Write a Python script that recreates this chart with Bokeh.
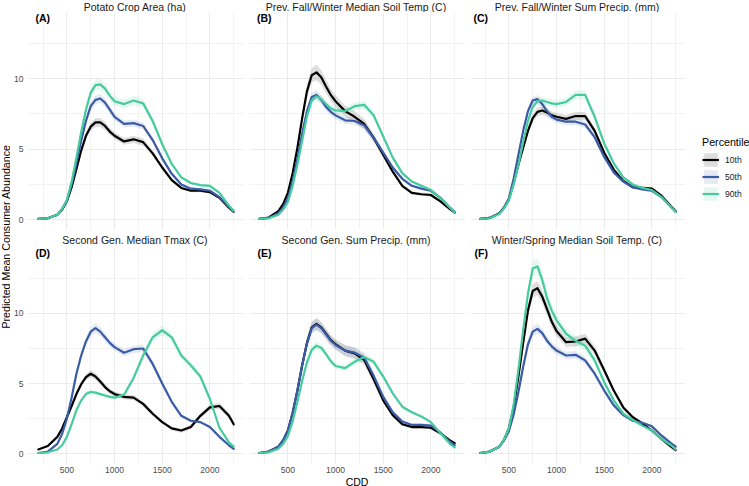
import math

from bokeh.embed import file_html
from bokeh.layouts import column, row
from bokeh.models import (ColumnDataSource, FixedTicker, Grid, Label, Legend,
                          LegendItem, LinearAxis, Range1d)
from bokeh.plotting import figure
from bokeh.resources import INLINE

# ---------------------------------------------------------------- data
cdd = [200, 300, 400, 450, 500, 550, 600, 650, 700, 750, 800, 850, 900, 950,
       1000, 1100, 1200, 1300, 1400, 1500, 1600, 1700, 1800, 1900, 2000,
       2100, 2200, 2250]

percentiles = ["10th", "50th", "90th"]
colors = ["#000000", "#3A5BA6", "#45CB9D"]

panel_tags = ["(A)", "(B)", "(C)", "(D)", "(E)", "(F)"]
panel_titles = [
    "Potato Crop Area (ha)",
    "Prev. Fall/Winter Median Soil Temp (C)",
    "Prev. Fall/Winter Sum Precip. (mm)",
    "Second Gen. Median Tmax (C)",
    "Second Gen. Sum Precip. (mm)",
    "Winter/Spring Median Soil Temp. (C)",
]
x_title = "CDD"
y_title = "Predicted Mean Consumer Abundance"

x_ticks = [500, 1000, 1500, 2000]
x_minor = [250, 750, 1250, 1750, 2250]
y_ticks = [0, 5, 10]
y_minor = [2.5, 7.5, 12.5]

# predicted mean abundance (fit) and ribbon half-width per percentile
a_p10 = [0.05, 0.1, 0.35, 0.7, 1.3, 2.3, 3.6, 4.9, 5.95, 6.6, 6.9, 6.9, 6.65, 6.25,
         5.95, 5.55, 5.7, 5.5, 4.7, 3.7, 2.8, 2.25, 2.05, 2.05, 1.95, 1.55, 0.85, 0.55]
a_p50 = [0.05, 0.1, 0.35, 0.75, 1.35, 2.5, 4.0, 5.6, 7.0, 8.05, 8.5, 8.6, 8.3, 7.8,
         7.3, 6.8, 6.85, 6.65, 5.65, 4.35, 3.25, 2.5, 2.2, 2.15, 2.05, 1.6, 0.9, 0.6]
a_p90 = [0.05, 0.1, 0.35, 0.75, 1.4, 2.7, 4.4, 6.2, 7.8, 9.0, 9.55, 9.6, 9.3, 8.8,
         8.4, 8.2, 8.45, 8.25, 7.0, 5.35, 3.95, 3.0, 2.6, 2.45, 2.4, 1.9, 1.0, 0.6]
a_se10 = [0.02, 0.03, 0.05, 0.07, 0.1, 0.14, 0.18, 0.22, 0.26, 0.3, 0.32, 0.32, 0.3, 0.27,
          0.25, 0.24, 0.26, 0.25, 0.2, 0.16, 0.12, 0.1, 0.1, 0.1, 0.1, 0.08, 0.06, 0.05]
a_se50 = [0.02, 0.03, 0.05, 0.07, 0.1, 0.14, 0.18, 0.22, 0.26, 0.3, 0.32, 0.32, 0.3, 0.27,
          0.25, 0.24, 0.26, 0.25, 0.2, 0.16, 0.12, 0.1, 0.1, 0.1, 0.1, 0.08, 0.06, 0.05]
a_se90 = [0.02, 0.03, 0.05, 0.08, 0.12, 0.17, 0.22, 0.28, 0.33, 0.38, 0.4, 0.4, 0.38, 0.35,
          0.33, 0.32, 0.35, 0.33, 0.27, 0.2, 0.15, 0.12, 0.12, 0.12, 0.12, 0.1, 0.07, 0.05]

b_p10 = [0.05, 0.15, 0.6, 1.1, 1.9, 3.3, 5.1, 7.2, 9.1, 10.25, 10.45, 10.1, 9.45, 8.85,
         8.4, 7.7, 7.3, 6.8, 5.8, 4.6, 3.4, 2.4, 1.9, 1.8, 1.75, 1.3, 0.75, 0.5]
b_p50 = [0.05, 0.12, 0.45, 0.85, 1.5, 2.7, 4.3, 6.1, 7.7, 8.7, 8.85, 8.5, 8.0, 7.65,
         7.4, 7.05, 7.0, 6.7, 5.8, 4.75, 3.7, 2.9, 2.4, 2.2, 2.05, 1.55, 0.85, 0.55]
b_p90 = [0.05, 0.1, 0.35, 0.7, 1.25, 2.4, 3.9, 5.6, 7.35, 8.45, 8.75, 8.55, 8.2, 7.9,
         7.75, 7.7, 8.05, 8.15, 7.4, 5.9, 4.4, 3.3, 2.7, 2.4, 2.1, 1.55, 0.85, 0.5]
b_se10 = [0.03, 0.05, 0.08, 0.12, 0.16, 0.22, 0.3, 0.38, 0.46, 0.52, 0.55, 0.52, 0.48, 0.44,
          0.42, 0.4, 0.4, 0.38, 0.3, 0.22, 0.16, 0.13, 0.12, 0.12, 0.12, 0.1, 0.07, 0.05]
b_se50 = [0.02, 0.03, 0.05, 0.07, 0.1, 0.15, 0.2, 0.25, 0.3, 0.34, 0.35, 0.33, 0.3, 0.28,
          0.27, 0.26, 0.27, 0.26, 0.22, 0.17, 0.13, 0.11, 0.1, 0.1, 0.1, 0.08, 0.06, 0.05]
b_se90 = [0.02, 0.03, 0.05, 0.07, 0.1, 0.14, 0.18, 0.22, 0.26, 0.28, 0.3, 0.28, 0.26, 0.25,
          0.25, 0.26, 0.3, 0.3, 0.26, 0.2, 0.15, 0.12, 0.11, 0.11, 0.1, 0.08, 0.06, 0.05]

c_p10 = [0.05, 0.12, 0.45, 0.85, 1.45, 2.6, 3.9, 5.1, 6.3, 7.2, 7.65, 7.75, 7.6, 7.4,
         7.3, 7.15, 7.35, 7.35, 6.3, 4.75, 3.55, 2.75, 2.3, 2.25, 2.2, 1.7, 0.95, 0.6]
c_p50 = [0.05, 0.12, 0.45, 0.85, 1.5, 2.9, 4.6, 6.3, 7.7, 8.45, 8.55, 8.2, 7.7, 7.3,
         7.1, 6.95, 6.95, 6.75, 5.85, 4.45, 3.35, 2.7, 2.3, 2.15, 2.05, 1.6, 0.9, 0.55]
c_p90 = [0.05, 0.1, 0.4, 0.8, 1.35, 2.5, 3.9, 5.5, 7.0, 8.0, 8.4, 8.45, 8.35, 8.25,
         8.2, 8.35, 8.85, 8.85, 7.3, 5.4, 4.0, 3.0, 2.5, 2.25, 2.1, 1.6, 0.9, 0.55]
c_se10 = [0.02, 0.03, 0.05, 0.07, 0.1, 0.14, 0.18, 0.22, 0.26, 0.29, 0.3, 0.3, 0.29, 0.28,
          0.27, 0.27, 0.28, 0.28, 0.24, 0.18, 0.14, 0.12, 0.11, 0.11, 0.11, 0.09, 0.07, 0.05]
c_se50 = [0.02, 0.03, 0.05, 0.07, 0.1, 0.14, 0.19, 0.24, 0.28, 0.3, 0.3, 0.29, 0.27, 0.26,
          0.25, 0.25, 0.25, 0.25, 0.22, 0.17, 0.13, 0.11, 0.1, 0.1, 0.1, 0.08, 0.06, 0.05]
c_se90 = [0.02, 0.03, 0.05, 0.07, 0.1, 0.14, 0.18, 0.22, 0.26, 0.28, 0.29, 0.29, 0.28, 0.28,
          0.28, 0.3, 0.34, 0.34, 0.28, 0.2, 0.15, 0.12, 0.11, 0.11, 0.1, 0.08, 0.06, 0.05]

d_p10 = [0.3, 0.55, 1.2, 1.8, 2.6, 3.4, 4.25, 4.95, 5.45, 5.7, 5.5, 5.15, 4.75, 4.45,
         4.25, 4.05, 4.0, 3.55, 2.85, 2.25, 1.8, 1.65, 1.9, 2.7, 3.3, 3.4, 2.7, 2.1]
d_p50 = [0.05, 0.15, 0.7, 1.4, 2.5, 4.0, 5.7, 7.0, 8.0, 8.7, 8.95, 8.7, 8.3, 7.9,
         7.6, 7.2, 7.45, 7.5, 6.4, 5.0, 3.7, 2.7, 2.35, 2.25, 1.9, 1.2, 0.6, 0.35]
d_p90 = [0.05, 0.1, 0.3, 0.6, 1.2, 2.1, 3.1, 3.8, 4.25, 4.4, 4.35, 4.25, 4.15, 4.05,
         4.0, 4.2, 5.4, 7.0, 8.3, 8.8, 8.3, 7.0, 6.3, 5.5, 3.9, 1.85, 0.8, 0.5]
d_se10 = [0.06, 0.08, 0.1, 0.12, 0.14, 0.16, 0.18, 0.2, 0.22, 0.24, 0.24, 0.22, 0.2, 0.19,
          0.18, 0.18, 0.18, 0.17, 0.15, 0.14, 0.14, 0.15, 0.16, 0.18, 0.2, 0.22, 0.22, 0.2]
d_se50 = [0.02, 0.03, 0.06, 0.09, 0.12, 0.17, 0.22, 0.26, 0.3, 0.32, 0.33, 0.32, 0.3, 0.28,
          0.27, 0.26, 0.27, 0.27, 0.24, 0.2, 0.16, 0.12, 0.11, 0.11, 0.1, 0.08, 0.06, 0.05]
d_se90 = [0.02, 0.03, 0.04, 0.06, 0.08, 0.1, 0.13, 0.15, 0.16, 0.17, 0.17, 0.17, 0.16, 0.16,
          0.16, 0.17, 0.22, 0.28, 0.33, 0.36, 0.33, 0.28, 0.25, 0.22, 0.17, 0.1, 0.06, 0.05]

e_p10 = [0.05, 0.15, 0.5, 0.95, 1.65, 2.9, 4.5, 6.3, 7.9, 9.0, 9.25, 9.0, 8.55, 8.1,
         7.8, 7.35, 7.15, 6.7, 5.3, 3.8, 2.75, 2.1, 1.9, 1.9, 1.85, 1.45, 0.95, 0.75]
e_p50 = [0.05, 0.15, 0.5, 0.95, 1.65, 2.9, 4.5, 6.3, 7.85, 8.95, 9.2, 8.95, 8.5, 8.05,
         7.75, 7.35, 7.2, 6.85, 5.55, 4.05, 2.95, 2.3, 2.05, 2.05, 2.0, 1.5, 0.85, 0.6]
e_p90 = [0.05, 0.1, 0.35, 0.7, 1.25, 2.3, 3.7, 5.2, 6.5, 7.4, 7.7, 7.55, 7.1, 6.6,
         6.25, 6.1, 6.55, 6.9, 6.55, 5.5, 4.3, 3.35, 2.95, 2.65, 2.25, 1.45, 0.7, 0.45]
e_se10 = [0.02, 0.04, 0.07, 0.1, 0.14, 0.2, 0.26, 0.32, 0.37, 0.4, 0.42, 0.4, 0.38, 0.36,
          0.36, 0.38, 0.4, 0.36, 0.28, 0.2, 0.15, 0.12, 0.11, 0.11, 0.11, 0.1, 0.08, 0.07]
e_se50 = [0.02, 0.04, 0.07, 0.1, 0.14, 0.2, 0.26, 0.32, 0.37, 0.4, 0.42, 0.4, 0.38, 0.36,
          0.36, 0.38, 0.4, 0.36, 0.28, 0.2, 0.15, 0.12, 0.11, 0.11, 0.11, 0.1, 0.08, 0.06]
e_se90 = [0.02, 0.03, 0.05, 0.07, 0.1, 0.14, 0.18, 0.22, 0.25, 0.27, 0.28, 0.27, 0.25, 0.23,
          0.22, 0.22, 0.24, 0.25, 0.23, 0.19, 0.15, 0.12, 0.11, 0.1, 0.1, 0.08, 0.06, 0.05]

f_p10 = [0.05, 0.15, 0.5, 1.0, 1.8, 3.3, 5.5, 7.9, 10.2, 11.6, 11.8, 11.2, 10.3, 9.4,
         8.75, 7.95, 8.0, 8.2, 7.35, 5.95, 4.5, 3.3, 2.6, 2.15, 1.65, 1.05, 0.5, 0.25]
f_p50 = [0.05, 0.15, 0.5, 0.95, 1.6, 2.8, 4.4, 6.2, 7.8, 8.7, 8.9, 8.6, 8.05, 7.65,
         7.35, 7.0, 7.05, 6.65, 5.7, 4.5, 3.45, 2.75, 2.35, 2.2, 1.95, 1.3, 0.75, 0.5]
f_p90 = [0.05, 0.15, 0.5, 1.0, 1.8, 3.5, 6.0, 8.8, 11.4, 13.2, 13.35, 12.4, 11.1, 10.2,
         9.5, 8.55, 8.05, 7.7, 6.65, 5.1, 3.8, 2.85, 2.4, 2.0, 1.65, 1.05, 0.6, 0.3]
f_se10 = [0.02, 0.04, 0.07, 0.1, 0.14, 0.2, 0.27, 0.34, 0.42, 0.48, 0.5, 0.48, 0.44, 0.4,
          0.37, 0.35, 0.36, 0.37, 0.32, 0.25, 0.18, 0.14, 0.12, 0.11, 0.1, 0.08, 0.06, 0.05]
f_se50 = [0.02, 0.03, 0.06, 0.09, 0.12, 0.17, 0.22, 0.27, 0.32, 0.35, 0.36, 0.34, 0.31, 0.29,
          0.28, 0.27, 0.27, 0.26, 0.22, 0.18, 0.14, 0.12, 0.11, 0.11, 0.1, 0.08, 0.06, 0.05]
f_se90 = [0.02, 0.04, 0.07, 0.11, 0.16, 0.23, 0.31, 0.4, 0.5, 0.58, 0.6, 0.56, 0.5, 0.45,
          0.41, 0.37, 0.35, 0.34, 0.29, 0.22, 0.16, 0.12, 0.11, 0.1, 0.09, 0.07, 0.05, 0.04]

panel_fits = [
    (a_p10, a_p50, a_p90), (b_p10, b_p50, b_p90), (c_p10, c_p50, c_p90),
    (d_p10, d_p50, d_p90), (e_p10, e_p50, e_p90), (f_p10, f_p50, f_p90),
]
panel_ses = [
    (a_se10, a_se50, a_se90), (b_se10, b_se50, b_se90), (c_se10, c_se50, c_se90),
    (d_se10, d_se50, d_se90), (e_se10, e_se50, e_se90), (f_se10, f_se50, f_se90),
]

# ---------------------------------------------------------------- style
FONT = "Liberation Sans"
GRID = "#EBEBEB"
X_RANGE = (97.5, 2352.5)
Y_RANGE = (-0.7, 14.7)
FRAME_W = 215
COL_BORDERS = [(17, 3), (3, 3), (3, 2)]   # (left, right) border of each column


def blank(width, height):
    """A bare figure used only as a canvas for free-standing text."""
    f = figure(frame_width=width, frame_height=height,
               x_range=Range1d(0, 1), y_range=Range1d(0, 1),
               x_axis_location=None, y_axis_location=None,
               toolbar_location=None, output_backend="svg", title=None, min_border=0)
    f.outline_line_color = None
    f.background_fill_color = "white"
    f.border_fill_color = "white"
    f.center = []
    return f


def title_strip(i, height, y_mid):
    left, right = COL_BORDERS[i % 3]
    f = blank(left + FRAME_W + right, height)
    f.add_layout(Label(x=left + FRAME_W / 2, y=y_mid, x_units="screen", y_units="screen",
                       text=panel_titles[i], text_align="center", text_baseline="middle",
                       text_font=FONT, text_font_size="10.5px", text_color="#1A1A1A"))
    return f


def make_panel(i, frame_h, bottom, show_x, tag_dx, tag_dy):
    left, right = COL_BORDERS[i % 3]
    p = figure(frame_width=FRAME_W, frame_height=frame_h,
               x_range=Range1d(*X_RANGE), y_range=Range1d(*Y_RANGE),
               x_axis_location=None, y_axis_location=None,
               toolbar_location=None, output_backend="svg", title=None,
               min_border_left=left, min_border_right=right,
               min_border_top=0, min_border_bottom=bottom)
    p.outline_line_color = None
    p.background_fill_color = "white"
    p.border_fill_color = "white"
    p.center = []

    xt = FixedTicker(ticks=x_ticks, minor_ticks=x_minor)
    yt = FixedTicker(ticks=y_ticks, minor_ticks=y_minor)
    for dim, tk in ((0, xt), (1, yt)):
        p.add_layout(Grid(dimension=dim, ticker=tk,
                          grid_line_color=GRID, grid_line_width=1.1,
                          minor_grid_line_color=GRID, minor_grid_line_width=0.6), "center")

    if show_x:
        # the middle column carries the shared x title; the others keep a blank
        # title so that all three bottom panels get the same height
        xa = LinearAxis(ticker=FixedTicker(ticks=x_ticks),
                        axis_label=x_title if i % 3 == 1 else " ",
                        axis_label_standoff=0,
                        axis_label_text_font=FONT, axis_label_text_font_size="10.5px",
                        axis_label_text_font_style="normal",
                        axis_label_text_color="#000000")
        p.add_layout(xa, "below")
    if i % 3 == 0:
        p.add_layout(LinearAxis(ticker=FixedTicker(ticks=y_ticks), axis_label=None,
                                axis_label_standoff=0), "left")
    for a in p.xaxis + p.yaxis:
        a.axis_line_color = None
        a.major_tick_line_color = None
        a.minor_tick_line_color = None
        a.major_tick_out = 0
        a.major_tick_in = 0
        a.minor_tick_out = 0
        a.minor_tick_in = 0
        a.major_label_text_font = FONT
        a.major_label_text_font_size = "8.6px"
        a.major_label_text_color = "#4D4D4D"
    for a in p.xaxis:
        a.major_label_standoff = 3
    for a in p.yaxis:
        a.major_label_standoff = 5

    fits = panel_fits[i]
    ses = panel_ses[i]
    for fit, se, col in zip(fits, ses, colors):
        lo = [m - s for m, s in zip(fit, se)]
        hi = [m + s for m, s in zip(fit, se)]
        src = ColumnDataSource(dict(x=cdd, lo=lo, hi=hi))
        p.varea(x="x", y1="lo", y2="hi", source=src, fill_color=col, fill_alpha=0.13)
    for fit, col in zip(fits, colors):
        src = ColumnDataSource(dict(x=cdd, y=fit))
        p.line(x="x", y="y", source=src, line_color=col, line_width=2.2,
               line_join="round", line_cap="round")

    p.add_layout(Label(x=tag_dx, y=frame_h - tag_dy, x_units="screen", y_units="screen",
                       text=panel_tags[i], text_align="left", text_baseline="middle",
                       text_font=FONT, text_font_size="10.5px", text_font_style="bold",
                       text_color="#000000"))
    return p


TOP_H, BOT_H = 217, 216
top_titles = [title_strip(i, 12, 6) for i in range(3)]
top_panels = [make_panel(0, TOP_H, 3, False, 7, 5.3),
              make_panel(1, TOP_H, 3, False, 7.5, 5.3),
              make_panel(2, TOP_H, 3, False, 3, 5.3)]
bot_titles = [title_strip(i, 15, 7.5) for i in range(3, 6)]
bot_panels = [make_panel(3, BOT_H, 23, True, 7, 5.7),
              make_panel(4, BOT_H, 23, True, 8, 5.7),
              make_panel(5, BOT_H, 23, True, 4, 5.7)]

# shared y-axis title
ylab = blank(10, 486)
ylab.add_layout(Label(x=5, y=486 - 236, x_units="screen", y_units="screen",
                      text=y_title, angle=math.pi / 2,
                      text_align="center", text_baseline="middle",
                      text_font=FONT, text_font_size="10.7px", text_color="#000000"))

# legend column
leg = blank(63, 486)
items = []
for lab, col in zip(percentiles, colors):
    src = ColumnDataSource(dict(x=[5, 6], lo=[5, 5], hi=[6, 6], y=[5, 5]))
    band = leg.varea(x="x", y1="lo", y2="hi", source=src, fill_color=col, fill_alpha=0.13)
    ln = leg.line(x="x", y="y", source=src, line_color=col, line_width=2.2)
    items.append(LegendItem(label=lab, renderers=[band, ln]))
legend = Legend(items=items, location=(15, 284), title="Percentile",
                title_text_font=FONT, title_text_font_size="10.7px",
                title_text_font_style="normal", title_text_color="#000000",
                title_standoff=3,
                label_text_font=FONT, label_text_font_size="8.6px",
                label_text_color="#1A1A1A",
                glyph_width=17, glyph_height=17, label_height=17,
                label_standoff=6, spacing=0, padding=0, margin=0,
                border_line_color=None, background_fill_alpha=0)
leg.add_layout(legend)

panels = column(row(*top_titles), row(*top_panels),
                row(*bot_titles), row(*bot_panels))
layout = row(ylab, panels, leg)

open("out.html", "w").write(file_html(layout, INLINE))
